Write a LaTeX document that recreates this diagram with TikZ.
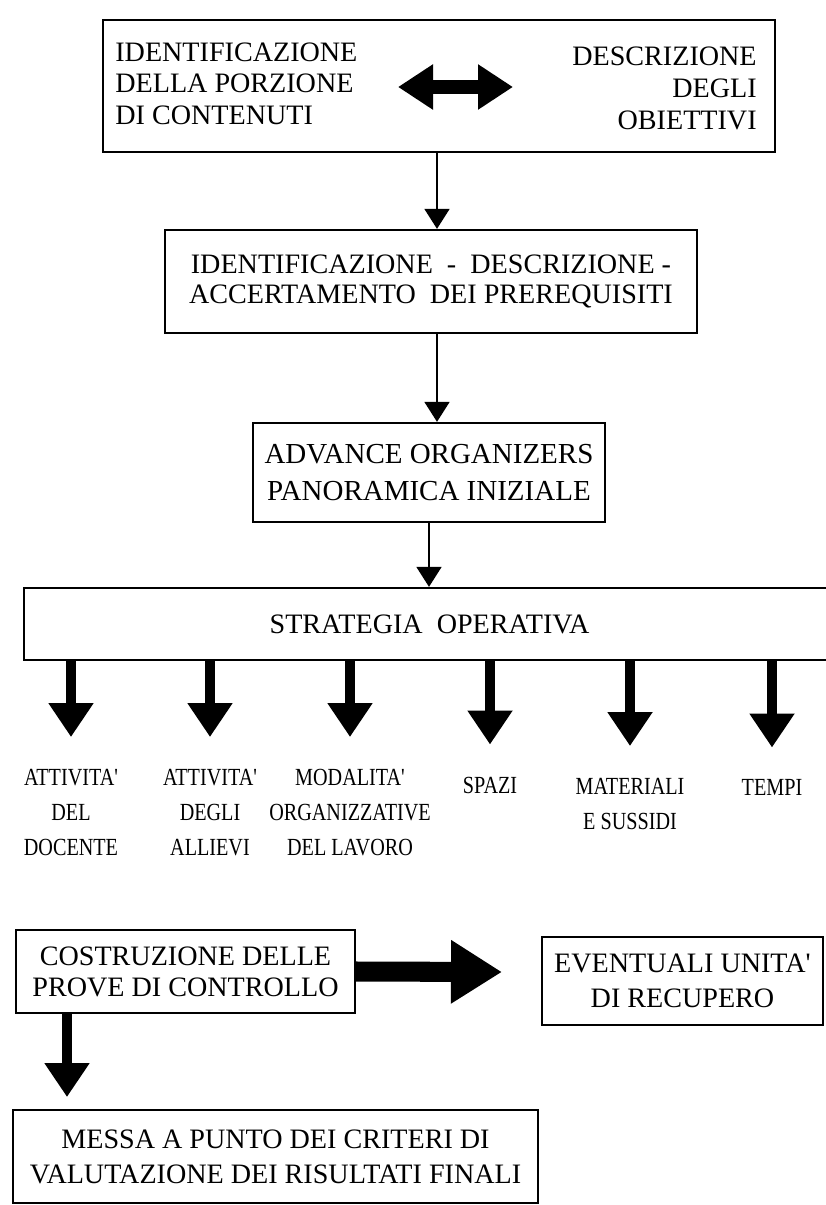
\documentclass[tikz,border=0pt]{standalone}
\usepackage{fontspec}
\setmainfont{Liberation Serif}
\newfontfamily\narrowfont[FakeStretch=0.82]{Liberation Serif}
\usetikzlibrary{arrows.meta,positioning}

\begin{document}
\begin{tikzpicture}[
  box/.style = {draw, line width = 1.3pt, inner sep = 0pt, align = center, font = \fontsize{16}{18}\selectfont},
  txt/.style = {inner sep = 0pt, font = \fontsize{16}{18}\selectfont},
  lbl/.style = {inner sep = 0pt, align = center, anchor = north, font = \narrowfont\fontsize{14}{20}\selectfont},
  smallarrow/.style = {line width = 1pt, -{Triangle[length = 0.4cm, width = 0.5cm]}},
  fatarrow/.style = {line width = 5.7pt, -{Triangle[length = 0.68cm, width = 0.86cm]}},
  bigarrow/.style = {line width = 11.4pt, -{Triangle[length = 1.02cm, width = 1.2cm]}},
  dblarrow/.style = {line width = 8.5pt, {Triangle[length = 0.7cm, width = 0.86cm]}-{Triangle[length = 0.7cm, width = 0.86cm]}}
]
\useasboundingbox (0,0) rectangle (16.5,-24.1);
\node[box, minimum width = 13.44cm, minimum height = 2.64cm] (obj) at (8.78,-1.72) {};
\node[txt, anchor = west, align = left] (cont) at (2.30,-1.67) {IDENTIFICAZIONE\\DELLA PORZIONE\\DI CONTENUTI};
\node[txt, anchor = east, align = right] (desc) at (15.14,-1.77) {DESCRIZIONE\\DEGLI\\OBIETTIVI};
\coordinate (dl) at (7.96,-1.74);
\coordinate (dr) at (10.26,-1.74);
\draw[dblarrow] (dl) -- (dr);
\node[box, minimum width = 10.64cm, minimum height = 2.06cm, font = \fontsize{16}{17}\selectfont] (prereq) at (8.62,-5.63) {IDENTIFICAZIONE~~-~~DESCRIZIONE~-\\ACCERTAMENTO~~DEI PREREQUISITI};
\node[box, minimum width = 7.04cm, minimum height = 1.98cm, font = \fontsize{16.5}{21.5}\selectfont] (adv) at (8.58,-9.45) {ADVANCE ORGANIZERS\\PANORAMICA INIZIALE};
\node[box, minimum width = 16.22cm, minimum height = 1.44cm] (strat) at (8.59,-12.48) {STRATEGIA~~OPERATIVA};
\draw[smallarrow] (obj.south -| 8.74,0) -- (prereq.north -| 8.74,0);
\draw[smallarrow] (prereq.south -| 8.74,0) -- (adv.north -| 8.74,0);
\draw[smallarrow] (adv.south) -- (adv.south |- strat.north);
\node[lbl] (l1) at (1.42,-15.38) {ATTIVITA'\\DEL\\DOCENTE};
\node[lbl] (l2) at (4.20,-15.38) {ATTIVITA'\\DEGLI\\ALLIEVI};
\node[lbl] (l3) at (7.00,-15.38) {MODALITA'\\ORGANIZZATIVE\\DEL LAVORO};
\node[lbl] (l4) at (9.80,-15.53) {SPAZI};
\node[lbl] (l5) at (12.60,-15.56) {MATERIALI\\E SUSSIDI};
\node[lbl] (l6) at (15.44,-15.59) {TEMPI};
\foreach \n in {1,...,6}
  \draw[fatarrow] (strat.south -| l\n.north) -- ([yshift = 0.64cm]l\n.north);
\node[box, minimum width = 6.78cm, minimum height = 1.66cm, font = \fontsize{16}{17.6}\selectfont] (prove) at (3.71,-19.43) {COSTRUZIONE DELLE\\PROVE DI CONTROLLO};
\node[box, minimum width = 5.62cm, minimum height = 1.76cm, font = \fontsize{16}{20}\selectfont] (recup) at (13.65,-19.62) {EVENTUALI UNITA\textquotesingle\\DI RECUPERO};
\node[box, minimum width = 10.5cm, minimum height = 1.86cm, font = \fontsize{16}{20}\selectfont] (crit) at (5.51,-23.13) {MESSA A PUNTO DEI CRITERI DI\\VALUTAZIONE DEI RISULTATI FINALI};
\coordinate (rtip) at (10.04,-19.44);
\draw[bigarrow] (prove.east) -- (rtip);
\coordinate (dtip) at (1.34,-21.94);
\draw[fatarrow] (prove.south -| dtip) -- (dtip);
\end{tikzpicture}
\end{document}
